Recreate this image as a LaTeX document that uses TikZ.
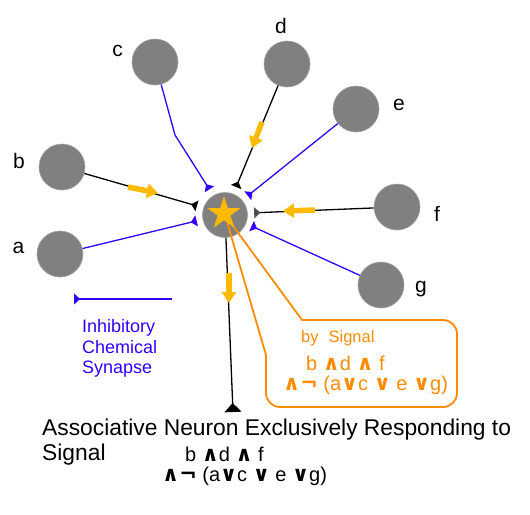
\documentclass[tikz,border=0pt]{standalone}
\usepackage{fontspec}
\setmainfont{Liberation Sans}
\newfontfamily\symf{DejaVu Sans}
\usetikzlibrary{arrows.meta,shapes.geometric}
\definecolor{ngray}{HTML}{808080}
\definecolor{inhblue}{HTML}{3300FF}
\definecolor{calor}{HTML}{FF8C00}
\definecolor{flowy}{HTML}{FFBA00}
\definecolor{dgray}{HTML}{4D4D4D}
\newcommand{\andS}{{\symf\bfseries\fontsize{21}{21}\selectfont ∧}}
\newcommand{\orS}{{\symf\bfseries\fontsize{21}{21}\selectfont ∨}}
\newcommand{\notS}{{\symf\bfseries\fontsize{21}{21}\selectfont ¬}}
\tikzset{
  neuron/.style={circle, fill=ngray, draw=ngray!75, line width=0.6pt, minimum size=46pt, inner sep=0pt},
  lbl/.style={anchor=base, inner sep=0pt, font=\fontsize{21}{25}\selectfont},
  inh/.style={draw=inhblue, line width=1.3pt, -{Triangle[reversed, length=6pt, width=11pt]}},
  exc/.style={draw=black, line width=1.3pt, -{Triangle[reversed, length=6pt, width=11pt]}},
  flow/.style={draw=flowy, line width=5.5pt, -{Triangle[length=11pt, width=14pt]}},
  callout/.style={draw=calor, line width=1.8pt, line join=round, line cap=round},
  expr/.style={anchor=base west, inner sep=0pt, text height=14pt, text depth=4pt, font=\fontsize{20}{24}\selectfont},
  txt/.style={anchor=base west, inner sep=0pt, font=\fontsize{22.8}{25}\selectfont},
  legtxt/.style={anchor=base west, inner sep=0pt, text=inhblue, font=\fontsize{18}{20}\selectfont},
}
\begin{document}
\begin{tikzpicture}[x=1pt,y=-1pt]
\useasboundingbox (0,0) rectangle (530,514);
% input neurons
\node[neuron] (a) at (60,254) {};
\node[neuron] (b) at (62,167) {};
\node[neuron] (c) at (155,62) {};
\node[neuron] (d) at (287,64) {};
\node[neuron] (e) at (356,109) {};
\node[neuron] (f) at (397,207) {};
\node[neuron] (g) at (381,285) {};
% labels
\node[lbl] (la) at (18.5,253) {a};
\node[lbl] (lb) at (19,168) {b};
\node[lbl] (lc) at (117.5,56) {c};
\node[lbl] (ld) at (281,33) {d};
\node[lbl] (le) at (399,110) {e};
\node[lbl] (lf) at (437,221) {f};
\node[lbl] (lg) at (421,292) {g};
% central neuron
\node[neuron, minimum size=45pt] (n) at (225,215) {};
\node[circle, minimum size=58pt, inner sep=0pt] (hub) at (225,214) {};
\coordinate (cbend) at (175,135);
\coordinate (axend) at (233,412);
% connectors
\draw[inh] (a) -- (hub);
\draw[exc] (b) -- (hub);
\draw[inh] (c) -- (cbend) -- (hub);
\draw[exc] (d) -- (hub);
\draw[inh] (e) -- (hub);
\draw[draw=black, line width=1.3pt, -{Triangle[reversed, length=6pt, width=11pt, color=dgray]}] (f) -- (hub);
\draw[inh] (g) -- (hub);
\draw[draw=black, line width=1.3pt, -{Triangle[reversed, length=9pt, width=17pt]}] (n) -- (axend);
% flow arrows
\draw[flow] (128,187) -- (158,193);
\draw[flow] (262,122) -- (252,148);
\draw[flow] (315,210) -- (283,211);
\draw[flow] (229,273) -- (229,303);
% callout
\coordinate (cp1) at (302,320);
\coordinate (cp2) at (266,355);
\draw[callout, rounded corners=14pt] (cp1) -- (457,320) -- (457,407) -- (266,407) -- (cp2);
\draw[callout] (cp1) -- (n.center) -- (cp2);
% star
\node[star, star points=5, star point ratio=2.618, minimum size=35pt, inner sep=0pt, fill=flowy] (st) at (224,213.5) {};
% callout text
\node[anchor=base west, inner sep=0pt, text=calor, font=\fontsize{16.5}{20}\selectfont] (by) at (301,342) {by\hspace{10pt}Signal};
\node[expr, text=calor] (ce1) at (306,370) {b \andS d \andS\ f};
\node[expr, text=calor] (ce2) at (283,390) {\andS\notS\ (a\orS c \orS\ e \orS g)};
% legend
\coordinate (legL) at (74,299);
\coordinate (legR) at (172,299);
\draw[inh] (legR) -- (legL);
\node[legtxt] (leg1) at (82,332) {Inhibitory};
\node[legtxt] (leg2) at (82,353) {Chemical};
\node[legtxt] (leg3) at (82,373) {Synapse};
% bottom caption
\node[txt] (t1) at (42,435) {Associative Neuron Exclusively Responding to};
\node[txt] (t2) at (42,460) {Signal};
\node[expr] (be1) at (185,461) {b \andS d \andS\ f};
\node[expr] (be2) at (162,481) {\andS\notS\ (a\orS c \orS\ e \orS g)};
\end{tikzpicture}
\end{document}
